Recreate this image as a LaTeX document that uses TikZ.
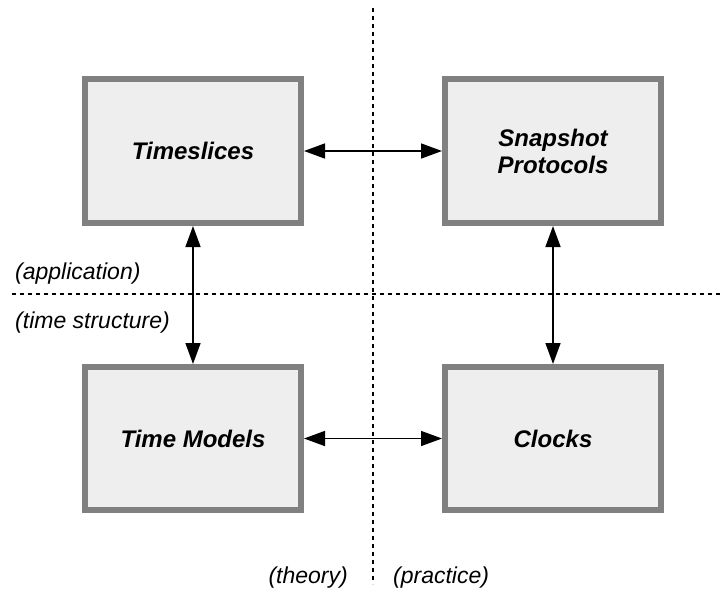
\documentclass[tikz,border=0pt]{standalone}
\usepackage{fontspec}
\setmainfont{Liberation Sans}
\usetikzlibrary{arrows.meta}

\definecolor{boxfill}{HTML}{EEEEEE}
\definecolor{boxline}{HTML}{808080}

\tikzset{
  topic/.style={draw=boxline, fill=boxfill, line width=5.7pt,
    minimum width=216.3pt, minimum height=144.3pt, inner sep=0pt,
    align=center, font=\fontsize{24}{27}\selectfont\bfseries\itshape},
  link/.style={line width=1.5pt, {Triangle[length=21pt,width=15pt]}-{Triangle[length=21pt,width=15pt]}},
  divider/.style={line width=1.8pt, dash pattern=on 4pt off 4pt},
  region/.style={inner sep=0pt, font=\fontsize{23}{27}\selectfont\itshape}
}

\begin{document}
\begin{tikzpicture}[x=1pt, y=-1pt]
  \useasboundingbox (0,0) rectangle (720,592);

  % quadrant dividers
  \draw[divider] (373,8) -- (373,584);
  \draw[divider] (12,294) -- (720,294);

  % the four topics
  \node[topic] (ts) at (193,151) {Timeslices};
  \node[topic] (sp) at (553,151) {Snapshot\\Protocols};
  \node[topic, minimum height=143.3pt] (tm) at (193,438.5) {Time Models};
  \node[topic, minimum height=143.3pt] (cl) at (553,438.5) {Clocks};

  % relations between topics
  \draw[link] (ts.east) -- (sp.west);
  \draw[link] (tm.east) -- (cl.west);
  \draw[link] (ts.south) -- (tm.north);
  \draw[link] (sp.south) -- (cl.north);

  % region labels
  \node[region, anchor=base west] (app) at (15,279) {(application)};
  \node[region, anchor=base west] (struct) at (15,328) {(time structure)};
  \node[region, anchor=base east] (theory) at (348,583) {(theory)};
  \node[region, anchor=base west] (practice) at (393,583) {(practice)};
\end{tikzpicture}
\end{document}
